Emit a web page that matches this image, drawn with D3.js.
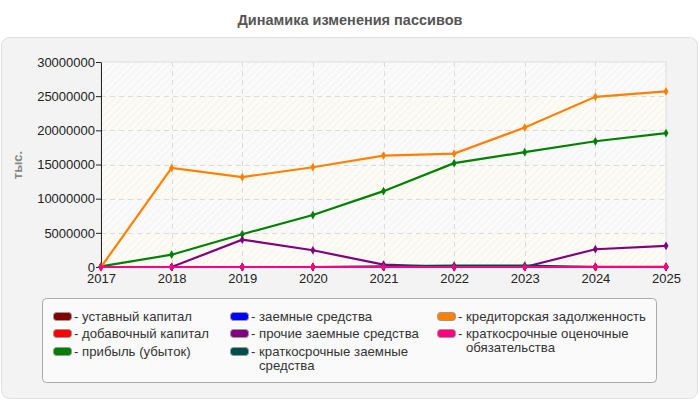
<!DOCTYPE html>
<html>
<head>
<meta charset="utf-8">
<title>Динамика изменения пассивов</title>
<script src="https://cdn.jsdelivr.net/npm/d3@7"></script>
<style>
  body { margin: 0; background: #fff; }
  text { font-family: "Liberation Sans", Arial, sans-serif; }
</style>
</head>
<body>
<script>
// data
var years = [2017, 2018, 2019, 2020, 2021, 2022, 2023, 2024, 2025];
var seriesNames = [
  "уставный капитал",
  "добавочный капитал",
  "прибыль (убыток)",
  "заемные средства",
  "прочие заемные средства",
  "краткосрочные заемные средства",
  "кредиторская задолженность",
  "краткосрочные оценочные обязательства"
];
var seriesColors = ["#800000", "#ff0000", "#008000", "#0000ff", "#800080", "#004d4d", "#ff8000", "#ff0080"];
var ustavny      = [10, 10, 10, 10, 10, 10, 10, 10, 10];
var dobavochny   = [0, 0, 0, 0, 0, 0, 0, 40000, 40000];
var pribyl       = [100000, 1800000, 4800000, 7600000, 11100000, 15200000, 16800000, 18400000, 19600000];
var zaemnye      = [0, 0, 0, 0, 0, 0, 0, 0, 0];
var prochie      = [0, 0, 4000000, 2450000, 350000, 0, 0, 2600000, 3100000];
var kratkoZaem   = [0, 0, 0, 0, 100000, 200000, 200000, 0, 0];
var kreditor     = [0, 14500000, 13150000, 14600000, 16300000, 16600000, 20400000, 24900000, 25700000];
var ocenochnye   = [0, 0, 0, 0, 0, 0, 0, 0, 0];
var seriesValues = [ustavny, dobavochny, pribyl, zaemnye, prochie, kratkoZaem, kreditor, ocenochnye];
var yTicks = [0, 5000000, 10000000, 15000000, 20000000, 25000000, 30000000];

var width = 700, height = 400;
var pLeft = 101, pRight = 666, pTop = 62, pBottom = 267;

var svg = d3.select("body").append("svg")
  .attr("width", width)
  .attr("height", height);

var defs = svg.append("defs");
var pat = defs.append("pattern")
  .attr("id", "hatch")
  .attr("width", 5).attr("height", 5)
  .attr("patternUnits", "userSpaceOnUse")
  .attr("patternTransform", "rotate(45)");
pat.append("line")
  .attr("x1", 0).attr("y1", 0).attr("x2", 0).attr("y2", 5)
  .attr("stroke", "#ebebeb").attr("stroke-width", 1);

// title
svg.append("text")
  .attr("x", 350).attr("y", 25)
  .attr("text-anchor", "middle")
  .attr("font-size", 14.5).attr("font-weight", "bold")
  .attr("fill", "#555")
  .text("Динамика изменения пассивов");

// panel
svg.append("rect")
  .attr("x", 1.5).attr("y", 37.5)
  .attr("width", 696).attr("height", 361)
  .attr("rx", 8)
  .attr("fill", "#f3f3f3")
  .attr("stroke", "#e0e0e0");

var x = d3.scaleLinear().domain([2017, 2025]).range([pLeft, pRight]);
var y = d3.scaleLinear().domain([0, 30000000]).range([pBottom, pTop]);

// bands
var plot = svg.append("g");
plot.selectAll("rect.band")
  .data(yTicks.slice(0, -1))
  .enter().append("rect")
  .attr("class", "band")
  .attr("x", pLeft)
  .attr("y", function(d) { return y(d + 5000000); })
  .attr("width", pRight - pLeft)
  .attr("height", function(d) { return y(d) - y(d + 5000000); })
  .attr("fill", function(d, i) { return i % 2 == 1 ? "#fafafa" : "#fcfcf4"; });
plot.append("rect")
  .attr("x", pLeft).attr("y", pTop)
  .attr("width", pRight - pLeft).attr("height", pBottom - pTop)
  .attr("fill", "url(#hatch)");
plot.append("rect")
  .attr("x", pLeft).attr("y", pTop)
  .attr("width", pRight - pLeft).attr("height", pBottom - pTop)
  .attr("fill", "none")
  .attr("stroke", "#dedede");

// grid
plot.selectAll("line.hg")
  .data(yTicks.slice(1, -1))
  .enter().append("line")
  .attr("x1", pLeft).attr("x2", pRight)
  .attr("y1", function(d) { return Math.round(y(d)) + 0.5; })
  .attr("y2", function(d) { return Math.round(y(d)) + 0.5; })
  .attr("stroke", "#dcdcdc").attr("stroke-dasharray", "5,4");
plot.selectAll("line.vg")
  .data(years.slice(1, -1))
  .enter().append("line")
  .attr("y1", pTop).attr("y2", pBottom)
  .attr("x1", function(d) { return Math.round(x(d)) + 0.5; })
  .attr("x2", function(d) { return Math.round(x(d)) + 0.5; })
  .attr("stroke", "#dcdcdc").attr("stroke-dasharray", "5,4");

// axes
var yAxis = svg.append("g")
  .attr("transform", "translate(" + pLeft + ",0)")
  .call(d3.axisLeft(y).tickValues(yTicks).tickFormat(d3.format("d")).tickSize(5).tickSizeOuter(0));
var xAxis = svg.append("g")
  .attr("transform", "translate(0," + pBottom + ")")
  .call(d3.axisBottom(x).tickValues(years).tickFormat(d3.format("d")).tickSize(4).tickSizeOuter(0));
[yAxis, xAxis].forEach(function(a) {
  a.selectAll("text").attr("font-size", 13).attr("fill", "#222")
    .attr("font-family", "Liberation Sans, Arial, sans-serif");
  a.selectAll("line").attr("stroke", "#222");
  a.select(".domain").attr("stroke", "#222");
});
yAxis.selectAll("text").attr("x", -6);
xAxis.selectAll("text").attr("y", 7);

// y label
svg.append("text")
  .attr("transform", "translate(22,165) rotate(-90)")
  .attr("text-anchor", "middle")
  .attr("font-size", 13).attr("font-weight", "bold")
  .attr("fill", "#888")
  .text("тыс.");

// lines
var line = d3.line()
  .x(function(d, i) { return x(years[i]); })
  .y(function(d) { return y(d); });

seriesValues.forEach(function(vals, k) {
  var g = svg.append("g");
  g.append("path")
    .datum(vals)
    .attr("d", line)
    .attr("fill", "none")
    .attr("stroke", seriesColors[k])
    .attr("stroke-width", 2.2);
  g.selectAll("path.m")
    .data(vals)
    .enter().append("path")
    .attr("class", "m")
    .attr("transform", function(d, i) { return "translate(" + x(years[i]) + "," + y(d) + ")"; })
    .attr("d", d3.symbol().type(d3.symbolDiamond).size(22))
    .attr("fill", seriesColors[k]);
});

// legend
svg.append("rect")
  .attr("x", 42.5).attr("y", 298.5)
  .attr("width", 614).attr("height", 84)
  .attr("rx", 4)
  .attr("fill", "#fafafa")
  .attr("stroke", "#aaa");

var legendPos = [
  [53, 317], [53, 334], [53, 352],
  [230, 317], [230, 334], [230, 352],
  [437, 317], [437, 334]
];
var legendLines = [
  ["- уставный капитал"],
  ["- добавочный капитал"],
  ["- прибыль (убыток)"],
  ["- заемные средства"],
  ["- прочие заемные средства"],
  ["- краткосрочные заемные", "средства"],
  ["- кредиторская задолженность"],
  ["- краткосрочные оценочные", "обязательства"]
];
var leg = svg.selectAll("g.leg")
  .data(seriesNames)
  .enter().append("g")
  .attr("class", "leg")
  .attr("transform", function(d, i) { return "translate(" + legendPos[i][0] + "," + legendPos[i][1] + ")"; });
leg.append("rect")
  .attr("x", 0.5).attr("y", -4.5)
  .attr("width", 18).attr("height", 8)
  .attr("rx", 3)
  .attr("fill", function(d, i) { return seriesColors[i]; })
  .attr("stroke", "#999");
leg.each(function(d, i) {
  var t = d3.select(this).append("text")
    .attr("font-size", 13.2).attr("fill", "#333");
  legendLines[i].forEach(function(s, j) {
    t.append("tspan")
      .attr("x", j == 0 ? 21 : 29)
      .attr("y", 4 + j * 14)
      .text(s);
  });
});
</script>
</body>
</html>
